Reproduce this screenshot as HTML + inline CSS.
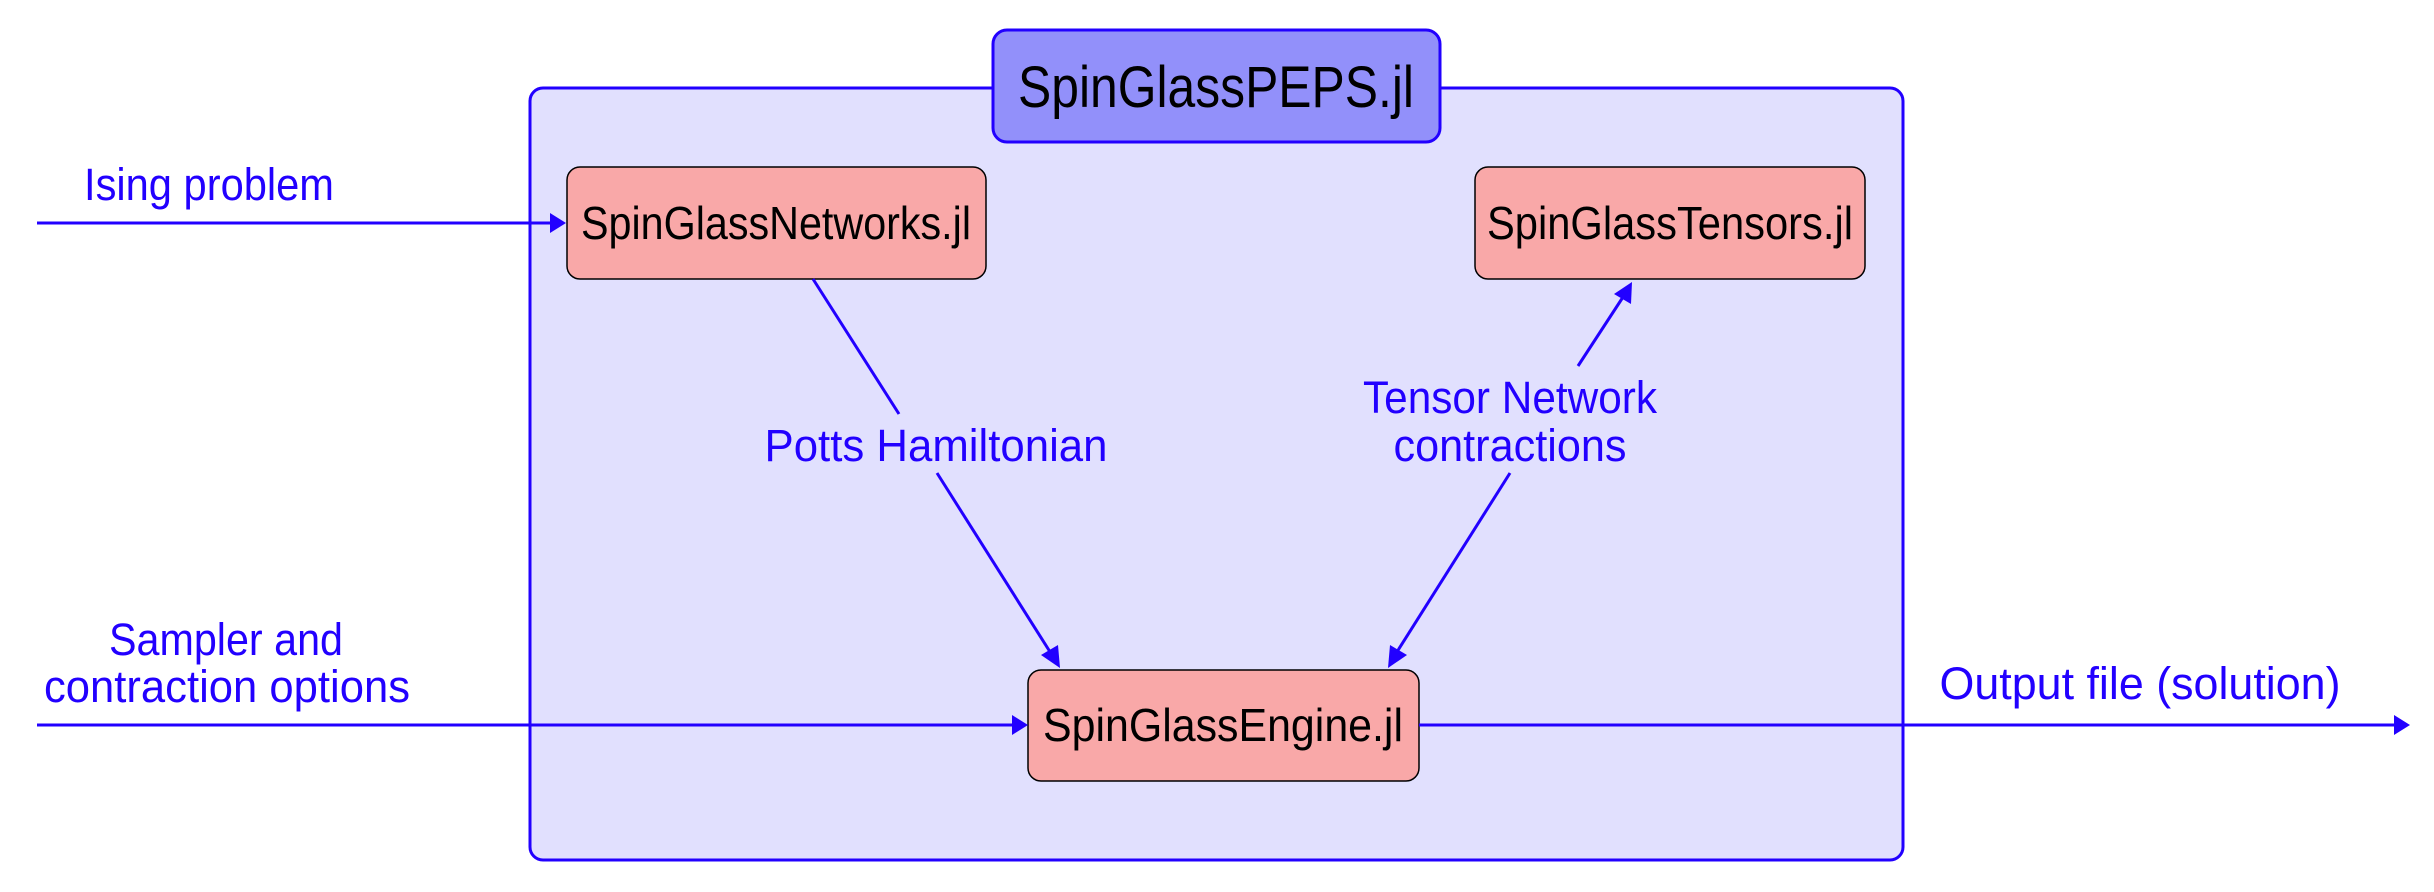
<!DOCTYPE html>
<html><head><style>
html,body{margin:0;padding:0;background:#fff;}
svg{display:block;}
text{font-family:"Liberation Sans",sans-serif;}
.b{fill:#2200ff;font-size:45px;}
.k{fill:#000;font-size:46px;}
</style></head><body>
<svg width="2434" height="892" viewBox="0 0 2434 892" xmlns="http://www.w3.org/2000/svg">
<rect x="530" y="88" width="1373" height="772" rx="13" fill="#e1e0fe" stroke="#2200ff" stroke-width="3"/>
<rect x="993" y="30" width="447" height="112" rx="14" fill="#9290fa" stroke="#2200ff" stroke-width="3"/>
<text x="1216" y="107" text-anchor="middle" textLength="396" lengthAdjust="spacingAndGlyphs" style="font-size:58px;fill:#000">SpinGlassPEPS.jl</text>
<rect x="567" y="167" width="419" height="112" rx="13" fill="#f9a8a8" stroke="#000" stroke-width="1.5"/>
<text class="k" x="776" y="239" text-anchor="middle" textLength="390" lengthAdjust="spacingAndGlyphs">SpinGlassNetworks.jl</text>
<rect x="1475" y="167" width="390" height="112" rx="13" fill="#f9a8a8" stroke="#000" stroke-width="1.5"/>
<text class="k" x="1670" y="239" text-anchor="middle" textLength="366" lengthAdjust="spacingAndGlyphs">SpinGlassTensors.jl</text>
<rect x="1028" y="670" width="391" height="111" rx="13" fill="#f9a8a8" stroke="#000" stroke-width="1.5"/>
<text class="k" x="1223" y="741" text-anchor="middle" textLength="360" lengthAdjust="spacingAndGlyphs">SpinGlassEngine.jl</text>
<g stroke="#2200ff" stroke-width="3" fill="none">
<line x1="37" y1="223" x2="552" y2="223"/>
<line x1="37" y1="725" x2="1014" y2="725"/>
<line x1="1419" y1="725" x2="2394" y2="725"/>
<line x1="813" y1="279" x2="899" y2="414"/>
<line x1="937" y1="473" x2="1052" y2="655"/>
<line x1="1510" y1="473" x2="1395" y2="655"/>
<line x1="1578" y1="366" x2="1625" y2="294"/>
</g>
<g fill="#2200ff">
<polygon points="566,223 550,213 550,233"/>
<polygon points="1028,725 1012,715 1012,735"/>
<polygon points="2410,725 2394,715 2394,735"/>
<polygon points="1060,668 1041,655 1058,645"/>
<polygon points="1388,668 1390,645 1407,655"/>
<polygon points="1632,282 1631,304 1614,294"/>
</g>
<text class="b" x="209" y="200" text-anchor="middle" textLength="250" lengthAdjust="spacingAndGlyphs">Ising problem</text>
<text class="b" x="226" y="655" text-anchor="middle" textLength="234" lengthAdjust="spacingAndGlyphs">Sampler and</text>
<text class="b" x="227" y="702" text-anchor="middle" textLength="366" lengthAdjust="spacingAndGlyphs">contraction options</text>
<text class="b" x="2140" y="699" text-anchor="middle" textLength="401" lengthAdjust="spacingAndGlyphs">Output file (solution)</text>
<text class="b" x="936" y="461" text-anchor="middle" textLength="343" lengthAdjust="spacingAndGlyphs">Potts Hamiltonian</text>
<text class="b" x="1510" y="413" text-anchor="middle" textLength="294" lengthAdjust="spacingAndGlyphs">Tensor Network</text>
<text class="b" x="1510" y="461" text-anchor="middle" textLength="233" lengthAdjust="spacingAndGlyphs">contractions</text>
</svg>
</body></html>
